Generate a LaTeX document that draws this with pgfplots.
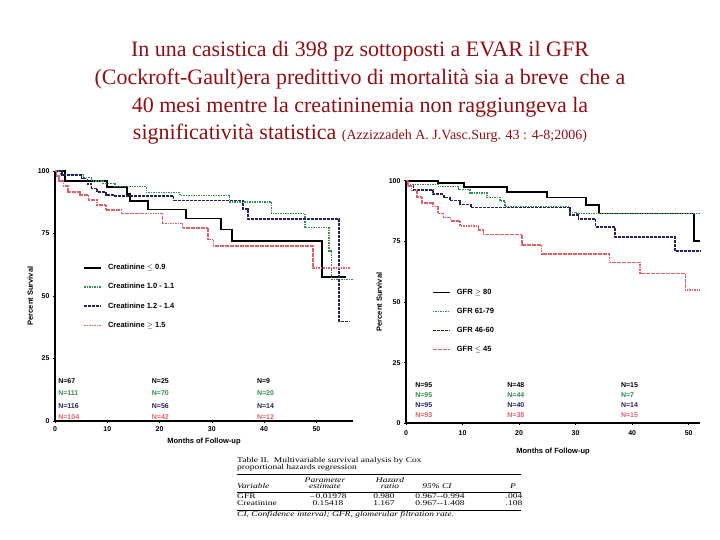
\documentclass[border=0pt]{standalone}
\usepackage{fontspec}
\setmainfont{Liberation Serif}
\newfontfamily\arial{Liberation Sans}
\newfontfamily\tabfont[FakeStretch=1.3]{Liberation Serif}
\usepackage{pgfplots}
\pgfplotsset{compat=1.18}

\definecolor{titlered}{RGB}{145,15,20}
\definecolor{kmgreen}{RGB}{50,140,80}
\definecolor{kmnavy}{RGB}{35,35,95}
\definecolor{kmred}{RGB}{225,95,105}

\newcommand{\kmfont}{\arial\bfseries\fontsize{7}{8}\selectfont}

\pgfplotsset{
  kmaxis/.style={
    scale only axis,
    axis lines=left,
    axis line style={-, line width=1.6pt},
    xmin=0, ymin=0, ymax=100,
    clip=false,
    xtick={0,10,20,30,40,50},
    ytick={0,25,50,75,100},
    tick align=outside,
    major tick length=2pt,
    tick style={black, line width=0.6pt},
    ticklabel style={font=\kmfont},
    /pgf/number format/assume math mode=true,
    label style={font=\arial\bfseries\fontsize{7.5}{9}\selectfont},
    xlabel={Months of Follow-up},
    ylabel={Percent Survival},
    legend style={draw=none, fill=none, anchor=north west,
      font=\arial\bfseries\fontsize{7.5}{9}\selectfont,
      row sep=8.3pt, inner sep=0pt},
    legend cell align=left,
    legend image code/.code={\draw[##1, sharp plot] (0pt,0pt) -- (17pt,0pt);
      \path (21pt,0pt);},
  },
  km1/.style={const plot, black, line width=1.8pt},
  km2/.style={const plot, kmgreen, line width=1.4pt, dash pattern=on 1.5pt off 1pt},
  km3/.style={const plot, kmnavy, line width=1.6pt, dash pattern=on 3pt off 1pt},
  km4/.style={const plot, kmred, line width=1.6pt, dash pattern=on 1.8pt off 0.7pt},
}

\begin{document}
\begin{tikzpicture}[x=1pt, y=1pt]
\path (0pt,0pt) rectangle (720pt,540pt);

% title
\begin{scope}[every node/.style={anchor=base, text=titlered, inner sep=0pt,
    font=\fontsize{22}{26}\selectfont}]
\node at (360pt,483.3pt) {In una casistica di 398 pz sottoposti a EVAR il GFR};
\node at (360pt,455pt) {(Cockroft-Gault)era predittivo di mortalità sia a breve\ \ che a};
\node at (360pt,427pt) {40 mesi mentre la creatininemia non raggiungeva la};
\node at (360pt,400pt) {significatività statistica {\fontsize{14}{16}\selectfont (Azzizzadeh A. J.Vasc.Surg. 43 : 4-8;2006)}};
\end{scope}

% Creatinine
\begin{axis}[kmaxis, at={(55pt,119pt)}, anchor=south west,
    width=298pt, height=250pt, xmax=57,
    ylabel style={yshift=-2pt},
    legend style={at={(0.094,0.636)}}]
\addplot[km1] coordinates {(0,100) (1.9,96) (10,93.7) (13.7,90.9) (14.3,88) (17.8,84.6) (25,81) (31.7,76.6) (33.9,71.9) (51.1,57.6) (55.7,57.6)};
\addlegendentry{Creatinine $\leq$ 0.9}
\addplot[km2] coordinates {(0,100) (1,98.7) (5.4,97.3) (7,96) (9.2,95) (11.5,93.7) (17.5,91.3) (23.9,90.3) (33.4,87.6) (41.4,83) (47.8,77.3) (52.4,68) (52.9,56.5) (57,56.5)};
\addlegendentry{Creatinine 1.0 - 1.1}
\addplot[km3] coordinates {(0,100) (1.3,98.5) (5.1,97) (6.2,94.7) (7,93) (8,91.5) (9.7,90.5) (11.5,90) (22.7,88.2) (36,84.9) (36.9,80.7) (54.3,39.8) (56.4,39.8)};
\addlegendentry{Creatinine 1.2 - 1.4}
\addplot[km4] coordinates {(0,100) (0.3,98) (0.8,96) (1.6,94) (2.5,91.7) (4.8,90.5) (6.4,88.4) (8,86.5) (9.7,84.4) (12.7,83) (20.6,79) (24.4,77.3) (29.3,72.6) (30.3,69.9) (49.4,61.2) (56.4,61.2)};
\addlegendentry{Creatinine $\geq$ 1.5}
\begin{scope}[every node/.style={anchor=west, inner sep=0pt, font=\kmfont}]
\node[text=black]   at (axis cs:0.6,16)  {N=67};
\node[text=kmgreen] at (axis cs:0.6,11.2) {N=111};
\node[text=kmnavy]  at (axis cs:0.6,6)   {N=116};
\node[text=kmred]   at (axis cs:0.6,1.6) {N=104};
\node[text=black]   at (axis cs:18.5,16)  {N=25};
\node[text=kmgreen] at (axis cs:18.5,11.2) {N=70};
\node[text=kmnavy]  at (axis cs:18.5,6)   {N=56};
\node[text=kmred]   at (axis cs:18.5,1.6) {N=42};
\node[text=black]   at (axis cs:38.6,16)  {N=9};
\node[text=kmgreen] at (axis cs:38.6,11.2) {N=20};
\node[text=kmnavy]  at (axis cs:38.6,6)   {N=14};
\node[text=kmred]   at (axis cs:38.6,1.6) {N=12};
\end{scope}
\end{axis}

% GFR
\begin{axis}[kmaxis, at={(406pt,116.7pt)}, anchor=south west,
    width=294pt, height=242.6pt, xmax=52,
    xticklabel style={yshift=-2pt},
    xlabel style={yshift=-5pt},
    legend style={at={(0.088,0.562)}}]
\addplot[km1] coordinates {(0,100) (5.7,98.9) (10.3,97.3) (17.8,95.2) (24.9,93.1) (31.9,90) (34.2,86.5) (50.9,75.1) (52,75.1)};
\addlegendentry{GFR $\geq$ 80}
\addplot[km2] coordinates {(0,100) (0.4,98.5) (5.7,97.5) (9.3,96.4) (11.3,95) (14.3,93.1) (16.6,91.6) (17.5,89.3) (29,87) (30.2,86.5) (52,86.5)};
\addlegendentry{GFR 61-79}
\addplot[km3] coordinates {(0,100) (0.4,98) (1.3,96.2) (4.8,94.4) (6.7,93) (7.8,91.8) (9.6,90.2) (11.5,88.9) (29,85.9) (30.5,84.2) (33.5,81) (37,76.9) (47.6,71) (52,71)};
\addlegendentry{GFR 46-60}
\addplot[km4] coordinates {(0,100) (0.4,97.7) (1,96) (1.9,93.4) (2.8,90.9) (4.8,89.3) (5.7,86.5) (6.6,84.9) (7.9,83.4) (9.6,81.3) (12.8,79.7) (13.7,77.9) (20.5,73.5) (24,69.8) (36,66.3) (41.4,61.8) (49.4,54.9) (52,54.9)};
\addlegendentry{GFR $\leq$ 45}
\begin{scope}[every node/.style={anchor=west, inner sep=0pt, font=\kmfont}]
\node[text=black]   at (axis cs:1.6,15.8) {N=95};
\node[text=kmgreen] at (axis cs:1.6,11.7) {N=95};
\node[text=kmnavy]  at (axis cs:1.6,7.5)  {N=95};
\node[text=kmred]   at (axis cs:1.6,3.4)  {N=93};
\node[text=black]   at (axis cs:17.9,15.8) {N=48};
\node[text=kmgreen] at (axis cs:17.9,11.7) {N=44};
\node[text=kmnavy]  at (axis cs:17.9,7.5)  {N=40};
\node[text=kmred]   at (axis cs:17.9,3.4)  {N=38};
\node[text=black]   at (axis cs:38,15.8) {N=15};
\node[text=kmgreen] at (axis cs:38,11.7) {N=7};
\node[text=kmnavy]  at (axis cs:38,7.5)  {N=14};
\node[text=kmred]   at (axis cs:38,3.4)  {N=15};
\end{scope}
\end{axis}

% Cox regression table
\begin{scope}[every node/.style={inner sep=0pt, font=\tabfont\fontsize{7.3}{8}\selectfont}]
\node[anchor=base west] at (237pt,77pt) {Table II.\ \ Multivariable survival analysis by Cox};
\node[anchor=base west] at (237pt,70pt) {proportional hazards regression};
\draw[line width=0.6pt] (237pt,66pt) -- (521pt,66pt);
\node[anchor=base] at (325pt,57pt) {\itshape Parameter};
\node[anchor=base] at (390pt,57pt) {\itshape Hazard};
\node[anchor=base west] at (237pt,51pt) {\itshape Variable};
\node[anchor=base] at (325pt,51pt) {\itshape estimate};
\node[anchor=base] at (390pt,51pt) {\itshape ratio};
\node[anchor=base] at (437pt,51pt) {\itshape 95\% CI};
\node[anchor=base] at (513pt,51pt) {\itshape P};
\draw[line width=0.4pt] (237pt,48pt) -- (521pt,48pt);
\node[anchor=base west] at (237pt,41pt) {GFR};
\node[anchor=base] at (328pt,41pt) {$-$0.01978};
\node[anchor=base] at (384pt,41pt) {0.980};
\node[anchor=base] at (440pt,41pt) {0.967--0.994};
\node[anchor=base] at (514pt,41pt) {.004};
\node[anchor=base west] at (237pt,34pt) {Creatinine};
\node[anchor=base] at (328pt,34pt) {0.15418};
\node[anchor=base] at (384pt,34pt) {1.167};
\node[anchor=base] at (440pt,34pt) {0.967--1.408};
\node[anchor=base] at (514pt,34pt) {.108};
\draw[line width=0.4pt] (237pt,30pt) -- (521pt,30pt);
\node[anchor=base west] at (237pt,23pt) {\itshape CI, Confidence interval; GFR, glomerular filtration rate.};
\end{scope}
\end{tikzpicture}
\end{document}
